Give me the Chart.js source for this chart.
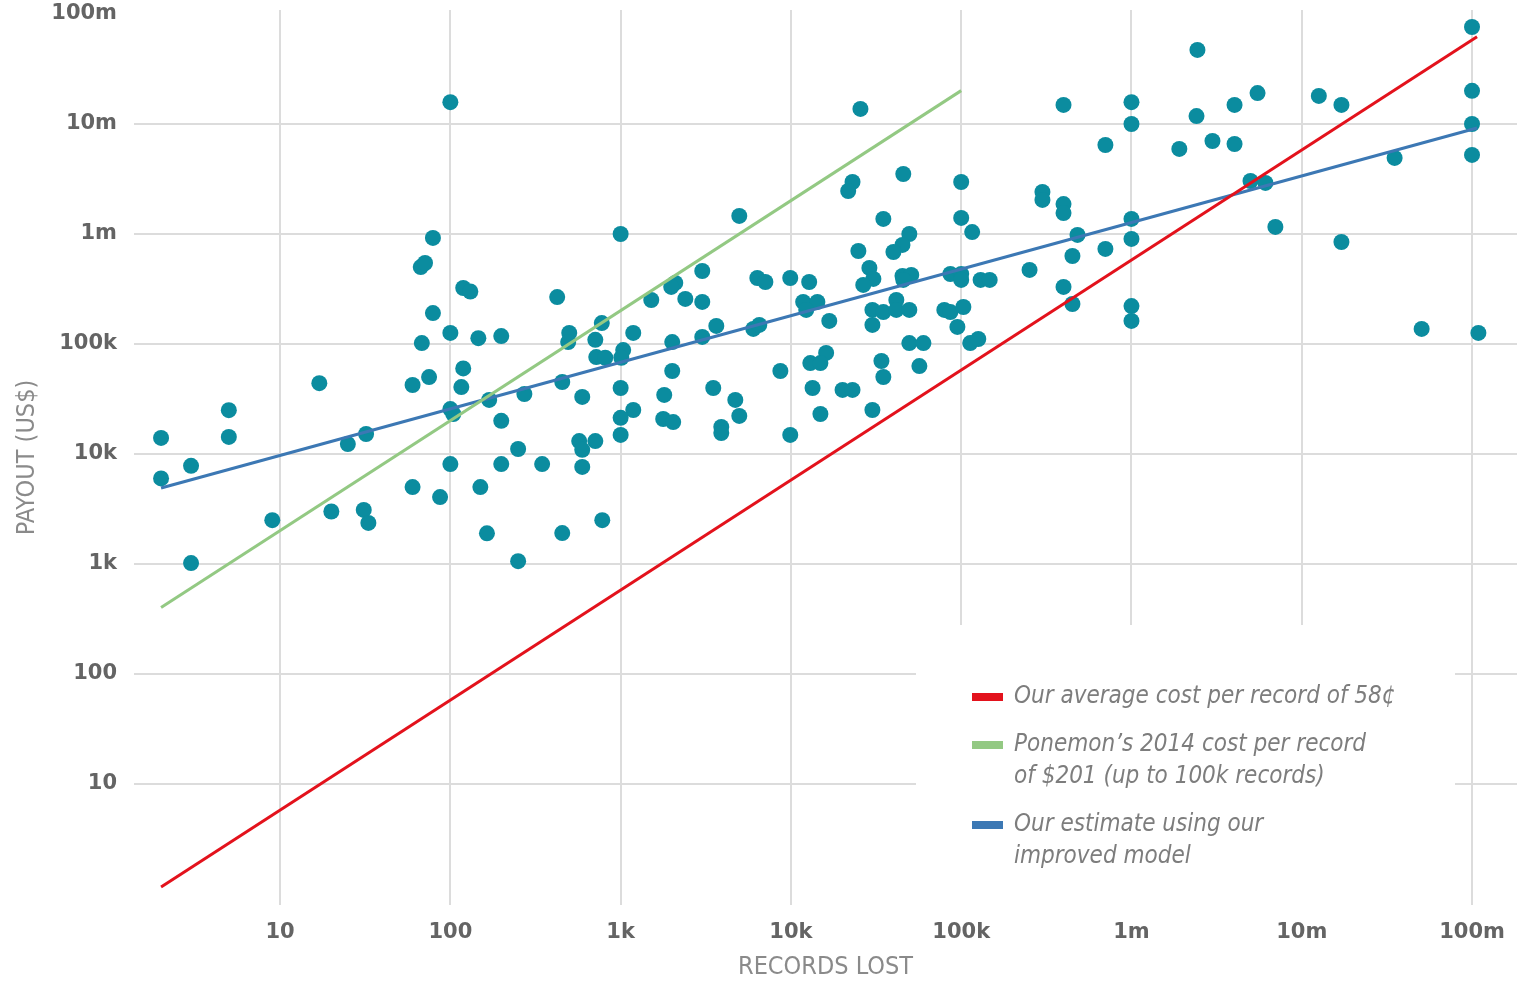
<!DOCTYPE html>
<html>
<head>
<meta charset="utf-8">
<title>Payout vs records lost</title>
<script src="https://cdn.jsdelivr.net/npm/chart.js@4.4.1/dist/chart.umd.min.js"></script>
<style>
  html, body { margin: 0; padding: 0; background: #ffffff; }
  #wrap { width: 1517px; height: 984px; }
</style>
</head>
<body>
<div id="wrap"><canvas id="chart" width="1517" height="984"></canvas></div>
<script>
// Breaches: number of records lost and the payout in US$
const breachRecords = [
  2, 2, 3, 3, 5, 5, 9, 17, 20, 25, 32, 31, 33, 60, 60, 67, 71, 79, 119, 131,
  79, 68, 100, 146, 199, 75, 119, 116, 100, 104, 169, 199, 100, 199, 150, 87, 164, 100,
  424, 499, 492, 710, 775, 719, 812, 272, 454, 595, 250, 571, 595, 710, 346, 595, 454, 250, 780,
  1000, 4975, 25600, 23000, 21700, 45700, 100000, 300000, 300000, 34900, 100000, 116000, 49600,
  45200, 40000, 24900, 3016, 2093, 1982, 1513, 2398, 3016, 1186, 2009, 3016, 3646,
  6350, 7080, 9910, 12800, 28900, 30500, 26600, 11800, 14300, 12300, 16800, 30100, 34900, 30100,
  41600, 41600, 49600, 45200, 50900, 45700, 86400, 100000, 100000, 130000, 147000, 252000,
  79600, 86400, 103000, 95000, 6013, 6520, 49600, 60000, 113000, 126000, 16100, 1035, 1009,
  2009, 1000, 1803, 3498, 1186, 1000, 1000, 1778, 2036, 4714, 4975, 3900, 3900, 8670, 9910,
  13000, 14900, 13400, 14900, 20100, 23000, 30100, 34000, 34900, 56800,
  399000, 1000000, 1000000, 703000, 2410000, 2440000, 4030000, 5500000, 12600000, 17100000,
  100000000, 100000000, 100000000, 100000000, 35100000, 1910000, 2990000, 4030000,
  399000, 399000, 5000000, 6120000, 1000000, 482000, 1000000, 703000, 450000, 7000000,
  17100000, 399000, 450000, 1000000, 1000000, 50600000, 109000000
];
const breachPayouts = [
  14000, 6000, 7800, 1020, 25000, 14300, 2500, 44000, 3000, 12300, 15200, 3100, 2360, 42400, 5000, 500000, 545000, 920000, 323000, 300000,
  191000, 102000, 126000, 113000, 118000, 50000, 60000, 40600, 25600, 23100, 31000, 20000, 8100, 8100, 5000, 4060, 1900, 15800000,
  267000, 126000, 104000, 109000, 155000, 76000, 75000, 35100, 45100, 33000, 11100, 13100, 10900, 13100, 8100, 7620, 1910, 1060, 2500,
  1000000, 1460000, 13700000, 2970000, 2460000, 3510000, 2970000, 2410000, 2040000, 1370000, 1400000, 1040000, 1000000,
  795000, 686000, 700000, 461000, 359000, 330000, 251000, 257000, 241000, 126000, 104000, 116000, 146000,
  398000, 366000, 398000, 366000, 491000, 390000, 344000, 241000, 241000, 204000, 162000, 204000, 195000, 149000,
  251000, 204000, 204000, 415000, 424000, 382000, 433000, 433000, 382000, 382000, 382000, 471000,
  204000, 195000, 217000, 143000, 137000, 149000, 102000, 102000, 102000, 111000, 83000, 88000, 75000,
  56800, 39800, 34400, 39800, 25100, 21300, 14900, 20800, 19500, 31000, 22200, 17600, 15500, 56800, 14900,
  67000, 67000, 39800, 23100, 38200, 38200, 25100, 70000, 50100, 63000,
  14900000, 15800000, 10000000, 6440000, 11800000, 47100000, 14900000, 19100000, 18000000, 14900000,
  76200000, 20000000, 10000000, 5230000, 4910000, 5930000, 7000000, 6580000,
  1870000, 1550000, 3030000, 2910000, 1370000, 980000, 901000, 731000, 631000, 1160000,
  846000, 330000, 231000, 221000, 162000, 137000, 126000
];

// Reference lines (end points; straight on log-log axes)
const averageCostRecords = [2, 107000000];
const averageCostPayouts = [1.16, 62000000];
const ponemonRecords = [2, 100000];
const ponemonPayouts = [402, 20100000];
const modelRecords = [2, 107000000];
const modelPayouts = [4900, 9200000];

// Axis ticks
const tickValues = [10, 100, 1000, 10000, 100000, 1000000, 10000000, 100000000];
const tickLabels = ['10', '100', '1k', '10k', '100k', '1m', '10m', '100m'];

// Legend entries (one array of text lines per series)
const legendTexts = [
  ['Our average cost per record of 58¢'],
  ['Ponemon’s 2014 cost per record', 'of $201 (up to 100k records)'],
  ['Our estimate using our', 'improved model']
];
const seriesNames = ['Our average cost per record of 58¢', 'Ponemon’s 2014 cost per record of $201 (up to 100k records)', 'Our estimate using our improved model'];

const COLORS = {
  dots: '#0b8c9f',
  red: '#e3121c',
  green: '#93c983',
  blue: '#3c78b4',
  grid: '#dcdcdc',
  tick: '#646464',
  title: '#8a8a8a',
  legendText: '#7d7d7d'
};

const toPoints = (xs, ys) => xs.map((x, i) => ({ x: x, y: ys[i] }));

const tickFont = { family: "'DejaVu Sans', sans-serif", size: 21, weight: 'bold', lineHeight: 1.2 };
const titleFont = { family: "'Liberation Sans Narrow', 'DejaVu Sans Condensed', sans-serif", size: 25, weight: 'normal', lineHeight: 1.2 };

// White panel behind the legend, plus the legend itself
const legendPanel = {
  id: 'legendPanel',
  beforeDatasetsDraw(chart) {
    const ctx = chart.ctx;
    const area = chart.chartArea;
    ctx.save();
    ctx.fillStyle = '#ffffff';
    ctx.fillRect(916, 625, 1455 - 916, area.bottom - 625 + 1);
    ctx.restore();
  },
  afterDraw(chart) {
    const ctx = chart.ctx;
    const swatchX = 972, swatchW = 31, swatchH = 8, textX = 1014;
    const lineStep = 32, entryGap = 48;
    let y = 697;
    ctx.save();
    ctx.font = "italic 24px 'Liberation Sans Narrow', 'DejaVu Sans Condensed', sans-serif";
    ctx.textBaseline = 'middle';
    ctx.textAlign = 'left';
    legendTexts.forEach((lines, i) => {
      const ds = chart.data.datasets[i];
      ctx.fillStyle = ds.borderColor;
      ctx.fillRect(swatchX, y - swatchH / 2, swatchW, swatchH);
      ctx.fillStyle = COLORS.legendText;
      lines.forEach((t, j) => ctx.fillText(t, textX, y + j * lineStep));
      y += (lines.length - 1) * lineStep + entryGap;
    });
    ctx.restore();
  }
};

const lineStyle = (color) => ({
  showLine: true,
  borderColor: color,
  backgroundColor: color,
  borderWidth: 3,
  pointRadius: 0,
  pointHoverRadius: 0,
  fill: false,
  tension: 0
});

new Chart(document.getElementById('chart'), {
  type: 'scatter',
  data: {
    datasets: [
      Object.assign({ label: seriesNames[0], data: toPoints(averageCostRecords, averageCostPayouts), order: 0 }, lineStyle(COLORS.red)),
      Object.assign({ label: seriesNames[1], data: toPoints(ponemonRecords, ponemonPayouts), order: 1 }, lineStyle(COLORS.green)),
      Object.assign({ label: seriesNames[2], data: toPoints(modelRecords, modelPayouts), order: 2 }, lineStyle(COLORS.blue)),
      {
        label: 'Breaches',
        data: toPoints(breachRecords, breachPayouts),
        backgroundColor: COLORS.dots,
        borderWidth: 0,
        pointRadius: 8,
        pointHoverRadius: 8,
        order: 3
      }
    ]
  },
  options: {
    responsive: false,
    animation: false,
    devicePixelRatio: 1,
    layout: { autoPadding: false, padding: { top: 10, right: 0, bottom: 0, left: 0 } },
    plugins: {
      legend: { display: false },
      tooltip: { enabled: false }
    },
    scales: {
      x: {
        type: 'logarithmic',
        min: 1.387,
        max: 183700000,
        afterBuildTicks: (s) => { s.ticks = tickValues.map(v => ({ value: v })); },
        afterFit: (s) => {
          s.height = 79;
          s.paddingLeft = 0;
          s.paddingRight = 0;
        },
        border: { display: false },
        grid: { color: COLORS.grid, lineWidth: 2, drawTicks: false },
        ticks: {
          autoSkip: false,
          maxRotation: 0,
          padding: 15,
          color: COLORS.tick,
          font: tickFont,
          callback: (v, i) => tickLabels[i]
        },
        title: {
          display: true,
          text: 'RECORDS LOST',
          color: COLORS.title,
          font: titleFont,
          padding: { top: 0, bottom: 2 }
        }
      },
      y: {
        type: 'logarithmic',
        min: 0.794,
        max: 108700000,
        afterBuildTicks: (s) => { s.ticks = tickValues.map(v => ({ value: v })); },
        afterFit: (s) => {
          s.width = 134;
          s.paddingTop = 0;
          s.paddingBottom = 0;
        },
        border: { display: false },
        grid: {
          drawTicks: false,
          lineWidth: 2,
          color: (c) => (c.tick && c.tick.value === 100000000) ? 'rgba(0,0,0,0)' : COLORS.grid
        },
        ticks: {
          autoSkip: false,
          padding: 17,
          color: COLORS.tick,
          font: tickFont,
          callback: (v, i) => tickLabels[i]
        },
        title: {
          display: true,
          text: 'PAYOUT (US$)',
          color: COLORS.title,
          font: titleFont,
          padding: { top: 12, bottom: 0 }
        }
      }
    }
  },
  plugins: [legendPanel]
});
</script>
</body>
</html>
